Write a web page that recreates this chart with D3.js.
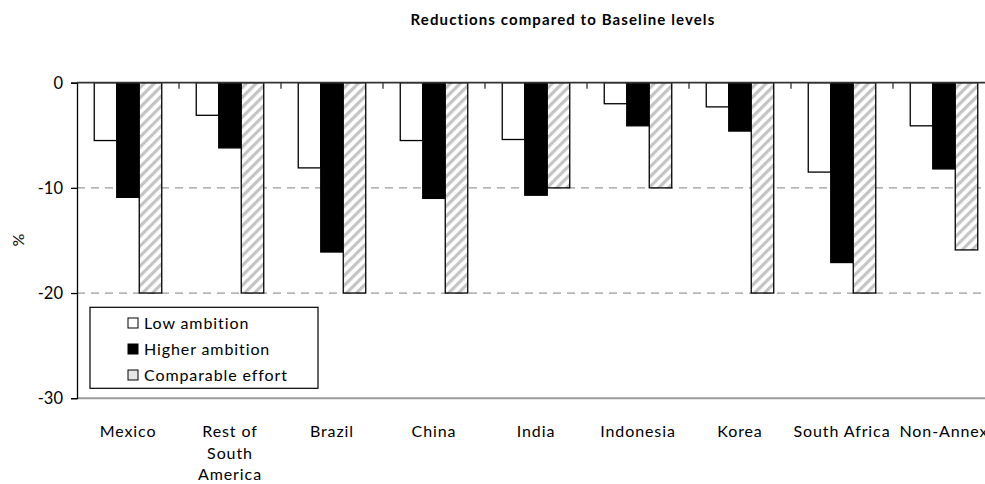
<!DOCTYPE html>
<html>
<head>
<meta charset="utf-8">
<script src="https://cdn.jsdelivr.net/npm/d3@7"></script>
<style>
  html, body { margin: 0; padding: 0; background: #fff; }
  svg { display: block; font-family: Lato, "Open Sans", sans-serif; }
</style>
</head>
<body>
<svg id="chart" width="985" height="484"></svg>
<script>
// Regions shown along the category axis (line breaks split with "|")
const regions = ["Mexico", "Rest of|South|America", "Brazil", "China", "India",
                 "Indonesia", "Korea", "South Africa", "Non-Annex"];
const seriesNames = ["Low ambition", "Higher ambition", "Comparable effort"];

// Reductions in % relative to baseline, one array per scenario
const lowAmbition      = [-5.5, -3.1, -8.1, -5.5, -5.4, -2.0, -2.3, -8.5, -4.1];
const higherAmbition   = [-10.9, -6.2, -16.1, -11.0, -10.7, -4.1, -4.6, -17.1, -8.2];
const comparableEffort = [-20, -20, -20, -20, -10, -10, -20, -20, -15.9];

const yTicks = [0, -10, -20, -30];

const svg = d3.select("#chart");
const W = 985;
const plotLeft = 77, plotTop = 82.7, plotBottom = 398.2;
const band = 102;

// Striped fill for the comparable-effort bars
const defs = svg.append("defs");
const pat = defs.append("pattern")
  .attr("id", "stripes")
  .attr("patternUnits", "userSpaceOnUse")
  .attr("width", 7).attr("height", 7)
  .attr("patternTransform", "rotate(45)");
pat.append("rect").attr("width", 7).attr("height", 7).attr("fill", "#fff");
pat.append("rect").attr("x", 0).attr("width", 3.2).attr("height", 7).attr("fill", "#c4c4c4");

const x0 = d3.scaleBand().domain(regions).range([plotLeft, plotLeft + band * regions.length]).padding(0);
const x1 = d3.scaleBand().domain(seriesNames).range([17.25, band - 17.25]).padding(0);
const y = d3.scaleLinear().domain([-30, 0]).range([plotBottom, plotTop]);

const fills = { "Low ambition": "#fff", "Higher ambition": "#000", "Comparable effort": "url(#stripes)" };
const seriesValues = [lowAmbition, higherAmbition, comparableEffort];

// Title
svg.append("text")
  .attr("x", 563).attr("y", 25)
  .attr("text-anchor", "middle")
  .attr("font-weight", "bold")
  .attr("font-size", 15)
  .attr("letter-spacing", 1.1)
  .text("Reductions compared to Baseline levels");

// Dashed gridlines
svg.append("g").selectAll("line")
  .data([-10, -20])
  .join("line")
  .attr("x1", plotLeft).attr("x2", W)
  .attr("y1", d => y(d)).attr("y2", d => y(d))
  .attr("stroke", "#9a9a9a").attr("stroke-width", 1.3)
  .attr("stroke-dasharray", "8,6");

// Bottom border of the plot area
svg.append("line")
  .attr("x1", plotLeft).attr("x2", W)
  .attr("y1", y(-30)).attr("y2", y(-30))
  .attr("stroke", "#9a9a9a").attr("stroke-width", 2);

// Bars
const groups = svg.append("g").selectAll("g")
  .data(regions)
  .join("g")
  .attr("transform", d => `translate(${x0(d)},0)`);

groups.selectAll("rect")
  .data((d, i) => seriesNames.map((s, k) => ({ s, v: seriesValues[k][i] })))
  .join("rect")
  .attr("x", d => x1(d.s))
  .attr("width", x1.bandwidth())
  .attr("y", y(0))
  .attr("height", d => y(d.v) - y(0))
  .attr("fill", d => fills[d.s])
  .attr("stroke", "#000")
  .attr("stroke-width", 1.3);

// Y axis
const yAxis = d3.axisLeft(y).tickValues(yTicks).tickSize(6).tickFormat(d => String(d));
const ya = svg.append("g").attr("transform", `translate(${plotLeft},0)`).call(yAxis);
ya.select(".domain").attr("stroke", "#000").attr("stroke-width", 1.3);
ya.selectAll(".tick line").attr("stroke", "#000").attr("stroke-width", 1.3);
ya.selectAll(".tick text")
  .attr("font-size", 16.5).attr("font-family", "Lato, sans-serif").attr("fill", "#000")
  .attr("x", -14).attr("dy", "0.35em");

// Category axis along zero, ticks between categories pointing into the plot
svg.append("line")
  .attr("x1", plotLeft).attr("x2", W)
  .attr("y1", y(0)).attr("y2", y(0))
  .attr("stroke", "#333").attr("stroke-width", 1.8);
svg.append("g").selectAll("line")
  .data(regions.slice(1))
  .join("line")
  .attr("x1", d => x0(d)).attr("x2", d => x0(d))
  .attr("y1", y(0)).attr("y2", y(0) + 6)
  .attr("stroke", "#333").attr("stroke-width", 1.3);

// Category labels
const labels = svg.append("g").selectAll("text")
  .data(regions)
  .join("text")
  .attr("x", d => x0(d) + band / 2)
  .attr("y", 437)
  .attr("text-anchor", "middle")
  .attr("font-size", 16)
  .attr("letter-spacing", 0.9);
labels.selectAll("tspan")
  .data(d => d.split("|"))
  .join("tspan")
  .attr("x", function () { return d3.select(this.parentNode).attr("x"); })
  .attr("dy", (d, i) => i === 0 ? 0 : 21.5)
  .text(d => d);

// Y axis title
svg.append("text")
  .attr("transform", "translate(24,240) rotate(-90)")
  .attr("text-anchor", "middle")
  .attr("font-size", 16)
  .text("%");

// Legend
const lg = svg.append("g");
lg.append("rect")
  .attr("x", 90).attr("y", 307.3).attr("width", 228).attr("height", 81)
  .attr("fill", "#fff").attr("stroke", "#000").attr("stroke-width", 1.2);
const items = lg.selectAll("g")
  .data(seriesNames)
  .join("g")
  .attr("transform", (d, i) => `translate(128,${323 + i * 26})`);
items.append("rect")
  .attr("x", 0).attr("y", -5).attr("width", 10).attr("height", 10)
  .attr("fill", d => d === "Comparable effort" ? "#e6e6e6" : fills[d])
  .attr("stroke", "#000").attr("stroke-width", 1);
items.append("text")
  .attr("x", 16).attr("dy", "0.36em")
  .attr("font-size", 16)
  .attr("letter-spacing", 0.9)
  .text(d => d);
</script>
</body>
</html>
